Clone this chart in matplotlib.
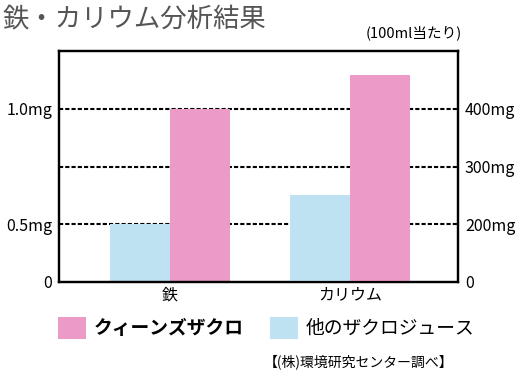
import numpy as np
import matplotlib
matplotlib.use("Agg")
import matplotlib.pyplot as plt
from matplotlib.patches import Patch

plt.rcParams["font.family"] = ["Noto Sans CJK JP", "DejaVu Sans"]

# data
categories = ["鉄", "カリウム"]
series_names = ["クィーンズザクロ", "他のザクロジュース"]
iron_mg = [1.0, 0.5]          # queen, other (left axis, mg)
potassium_mg = [458, 250]     # queen, other (right axis, mg)

left_ticks = [0.25, 0.5, 1.0]
left_labels = ["0", "0.5mg", "1.0mg"]
right_ticks = [100, 200, 300, 400]
right_labels = ["0", "200mg", "300mg", "400mg"]
grid_levels = [0.5, 0.75, 1.0]

PINK = "#EC9BC9"
BLUE = "#BEE2F2"

fig = plt.figure(figsize=(5.2, 3.75), dpi=100)
ax = fig.add_axes([59 / 520, 1 - 282 / 375, 399 / 520, 231 / 375])
ax2 = ax.twinx()

x = np.arange(len(categories))
w = 60 / 180

# gridlines behind bars
for g in grid_levels:
    ax.axhline(g, color="black", lw=1.5, linestyle=(0, (2, 1)), zorder=0)

# iron on left axis
ax.bar(x[0] + w / 2, iron_mg[0], w, bottom=0, color=PINK, zorder=2)
ax.bar(x[0] - w / 2, iron_mg[1], w, bottom=0, color=BLUE, zorder=2)
# potassium on right axis
ax2.bar(x[1] + w / 2, potassium_mg[0], w, bottom=0, color=PINK, zorder=2)
ax2.bar(x[1] - w / 2, potassium_mg[1], w, bottom=0, color=BLUE, zorder=2)

ax.set_xlim(-111 / 180, 1 + 108 / 180)
ax.set_ylim(0.25, 1.25)
ax2.set_ylim(100, 500)

ax.set_xticks(x)
ax.set_xticklabels(categories, fontsize=11.5)
ax.set_yticks(left_ticks)
ax.set_yticklabels(left_labels, fontsize=11.5)
ax2.set_yticks(right_ticks)
ax2.set_yticklabels(right_labels, fontsize=11.5)
ax.tick_params(axis="both", length=0, pad=5)
ax.tick_params(axis="x", pad=3)
ax2.tick_params(axis="y", length=0, pad=5)

for a in (ax, ax2):
    for side in ["left", "right", "bottom", "top"]:
        a.spines[side].set_linewidth(1.6)
        a.spines[side].set_color("black")

fig.text(0.004, 0.985, "鉄・カリウム分析結果", fontsize=19, color="#555555",
         ha="left", va="top")
fig.text(462 / 520, 1 - 33 / 375, "(100ml当たり)", fontsize=10.5,
         ha="right", va="center")

handles = [Patch(facecolor=PINK, edgecolor="none"), Patch(facecolor=BLUE, edgecolor="none")]
leg = fig.legend(handles, series_names, loc="center left",
                 bbox_to_anchor=(58 / 520, 1 - 328 / 375), ncol=2, frameon=False,
                 fontsize=13.5, handlelength=1.5, handleheight=1.5,
                 handletextpad=0.4, columnspacing=1.4, borderpad=0, borderaxespad=0)
leg.get_texts()[0].set_fontweight("bold")

fig.text(453 / 520, 1 - 362 / 375, "【(株)環境研究センター調べ】", fontsize=10,
         ha="right", va="center")

fig.savefig("out.png", dpi=100)
